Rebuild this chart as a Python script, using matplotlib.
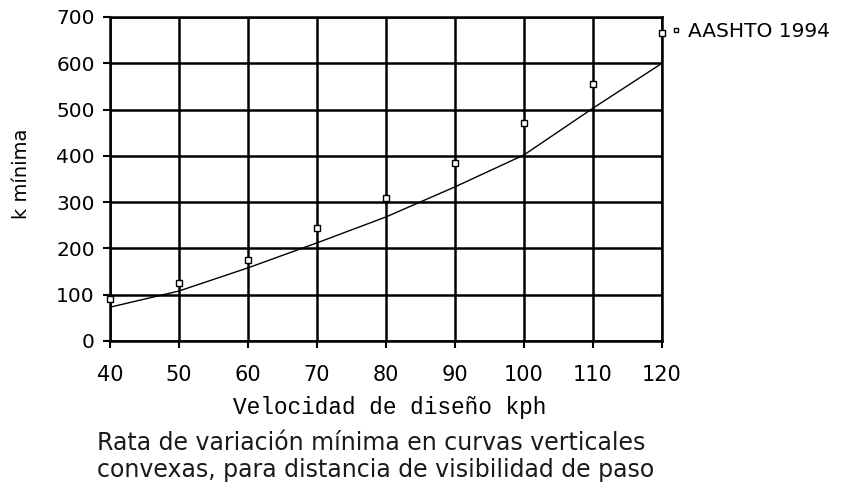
import matplotlib
matplotlib.use('Agg')
import matplotlib.pyplot as plt

# velocidad de diseño (kph)
velocidad = [40, 50, 60, 70, 80, 90, 100, 110, 120]
# puntos AASHTO 1994
k_aashto = [90, 125, 175, 245, 310, 385, 470, 555, 665]
# curva de ajuste
k_curva = [73, 108, 158, 212, 268, 333, 402, 503, 600]

fig = plt.figure(figsize=(8.42, 4.97), dpi=100)
ax = fig.add_axes([0.1306, 0.3139, 0.6556, 0.6519])

ax.plot(velocidad, k_curva, color='black', linewidth=1.0)
ax.plot(velocidad, k_aashto, linestyle='none', marker='s', markersize=4,
        markerfacecolor='white', markeredgecolor='black', markeredgewidth=1.0,
        label='AASHTO 1994', clip_on=False, zorder=5)

ax.set_xlim(40, 120)
ax.set_ylim(0, 700)
ax.set_xticks(velocidad)
ax.set_yticks(range(0, 701, 100))
ax.grid(True, color='black', linewidth=1.8)
for s in ax.spines.values():
    s.set_linewidth(1.8)

ax.tick_params(axis='both', direction='out', length=5, width=1.5, colors='black')
ax.tick_params(axis='x', labelsize=15, pad=12)
ax.tick_params(axis='y', labelsize=14.5, pad=6)

ax.set_xlabel('Velocidad de diseño kph', fontsize=16.4, family='Liberation Mono')
ax.xaxis.set_label_coords(0.507, -0.17)

fig.text(22 / 842, 1 - 174 / 497, 'k mínima', fontsize=14, rotation=90,
         ha='center', va='center')

leg = ax.legend(loc='upper left', bbox_to_anchor=(1.0, 1.01), frameon=False,
                handlelength=0.6, handletextpad=0.3, borderaxespad=0.0,
                fontsize=14.5, markerscale=0.8)

caption = ['Rata de variación mínima en curvas verticales',
           'convexas, para distancia de visibilidad de paso']
fig.text(97 / 842, 1 - 450 / 497, caption[0], fontsize=17,
         family='DejaVu Sans', color='#1a1a1a', va='baseline')
fig.text(97 / 842, 1 - 477 / 497, caption[1], fontsize=17,
         family='DejaVu Sans', color='#1a1a1a', va='baseline')

plt.savefig('out.png', dpi=100)
